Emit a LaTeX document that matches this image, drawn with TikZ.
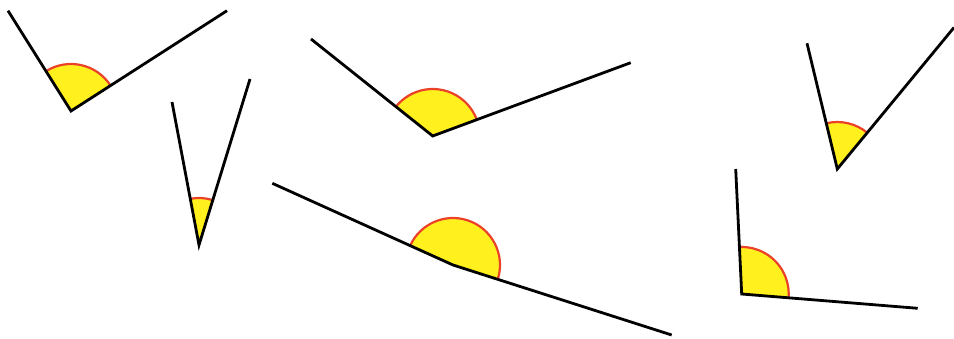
\documentclass[tikz,border=0pt]{standalone}
\usetikzlibrary{calc}
\definecolor{sectorfill}{RGB}{255,240,30}
\definecolor{arcred}{RGB}{235,65,40}
\newcommand{\sectormark}[3]{%
    \fill[sector] (#1) -- ++(#2:47) arc[start angle=#2, end angle=#3, radius=47] -- cycle;
    \draw[rim] (#1) ++(#2:47) arc[start angle=#2, end angle=#3, radius=47];}

\begin{document}
\begin{tikzpicture}[x=1pt, y=1pt,
    arm/.style={line width=2.8pt},
    sector/.style={fill=sectorfill},
    rim/.style={draw=arcred, line width=2.2pt}]
    \useasboundingbox (0,0) rectangle (954,338);

    % vertices and arm ends
    \coordinate (v1) at (71,227);    \coordinate (a1) at (8,327.3);    \coordinate (b1) at (227,327.3);
    \coordinate (v2) at (199,93);    \coordinate (a2) at (172,236);    \coordinate (b2) at (250,259);
    \coordinate (v3) at (432.7,202); \coordinate (a3) at (311,299);    \coordinate (b3) at (630.7,275.3);
    \coordinate (v4) at (453,73);    \coordinate (a4) at (272.3,154.7); \coordinate (b4) at (671.7,3);
    \coordinate (v5) at (837.3,169); \coordinate (a5) at (807,294.7);  \coordinate (b5) at (954,310.5);
    \coordinate (v6) at (741.7,44);  \coordinate (a6) at (735.7,169);  \coordinate (b6) at (917.7,29.7);

    % angle marks
    \sectormark{v1}{32.7}{122.1}
    \sectormark{v2}{72.9}{100.7}
    \sectormark{v3}{20.3}{141.4}
    \sectormark{v4}{-17.7}{155.7}
    \sectormark{v5}{50.6}{103.6}
    \sectormark{v6}{-4.6}{92.7}

    % arms
    \draw[arm] (a1) -- (v1) -- (b1);
    \draw[arm] (a2) -- (v2) -- (b2);
    \draw[arm] (a3) -- (v3) -- (b3);
    \draw[arm] (a4) -- (v4) -- (b4);
    \draw[arm] (a5) -- (v5) -- (b5);
    \draw[arm] (a6) -- (v6) -- (b6);
\end{tikzpicture}
\end{document}
